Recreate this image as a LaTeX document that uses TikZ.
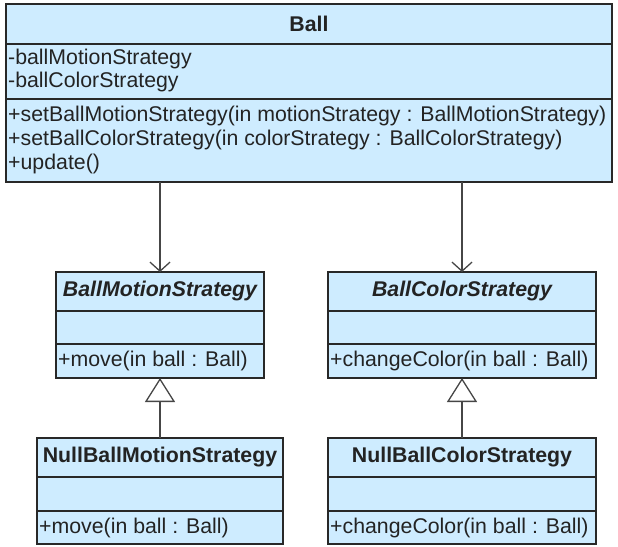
\documentclass[tikz,border=0pt]{standalone}
\usepackage{fontspec}
\setmainfont{Liberation Sans}
\usetikzlibrary{arrows.meta}
\definecolor{umlfill}{RGB}{206,236,255}
\definecolor{umlborder}{RGB}{40,40,40}
\definecolor{umltext}{RGB}{35,35,35}
\definecolor{umlarrow}{RGB}{70,70,70}
\begin{document}
\begin{tikzpicture}[x=1pt,y=-1pt,
 classbox/.style={draw=umlborder, fill=umlfill, line width=1.7pt, inner sep=0pt, outer sep=0pt, anchor=north west},
 divider/.style={draw=umlborder, line width=1.6pt},
 member/.style={anchor=west, inner sep=0pt, text=umltext, font=\fontsize{21.3}{23}\selectfont},
 classtitle/.style={inner sep=0pt, text=umltext, font=\fontsize{21.3}{23}\selectfont\bfseries},
 abstitle/.style={inner sep=0pt, text=umltext, font=\fontsize{21.3}{23}\selectfont\bfseries\itshape},
 assoc/.style={draw=umlarrow, line width=1.7pt, -{Straight Barb[length=9pt,width=20pt,line width=1.3pt]}},
 inherit/.style={draw=umlarrow, line width=1.7pt, -{Triangle[open,length=24pt,width=30pt,fill=white,line width=1.3pt]}}]
\useasboundingbox (0,0) rectangle (618,546);

% Ball
\node[classbox, minimum width=606pt, minimum height=178pt] (ball) at (6,4) {};
\draw[divider] (ball.west |- 0,44) -- (ball.east |- 0,44);
\draw[divider] (ball.west |- 0,99) -- (ball.east |- 0,99);
\node[classtitle] (balltitle) at (309,23.5) {Ball};
\node[member] (ba1) at (8,59) {-ballMotionStrategy};
\node[member] (ba2) at (8,82) {-ballColorStrategy};
\node[member] (bm1) at (8,116) {+setBallMotionStrategy(in motionStrategy : BallMotionStrategy)};
\node[member] (bm2) at (8,140) {+setBallColorStrategy(in colorStrategy : BallColorStrategy)};
\node[member] (bm3) at (8,164) {+update()};

% BallMotionStrategy
\node[classbox, minimum width=208pt, minimum height=106pt] (msb) at (56,272) {};
\draw[divider] (msb.west |- 0,311) -- (msb.east |- 0,311);
\draw[divider] (msb.west |- 0,344) -- (msb.east |- 0,344);
\node[abstitle] (msbtitle) at (160,291) {BallMotionStrategy};
\node[member] (msbm) at (58,361) {+move(in ball : Ball)};

% BallColorStrategy
\node[classbox, minimum width=268pt, minimum height=106pt] (csb) at (328,272) {};
\draw[divider] (csb.west |- 0,311) -- (csb.east |- 0,311);
\draw[divider] (csb.west |- 0,344) -- (csb.east |- 0,344);
\node[abstitle] (csbtitle) at (462,291) {BallColorStrategy};
\node[member] (csbm) at (330,361) {+changeColor(in ball : Ball)};

% NullBallMotionStrategy
\node[classbox, minimum width=246pt, minimum height=106pt] (nmb) at (37,438) {};
\draw[divider] (nmb.west |- 0,477) -- (nmb.east |- 0,477);
\draw[divider] (nmb.west |- 0,511) -- (nmb.east |- 0,511);
\node[classtitle] (nmbtitle) at (160,457.5) {NullBallMotionStrategy};
\node[member] (nmbm) at (39,527.5) {+move(in ball : Ball)};

% NullBallColorStrategy
\node[classbox, minimum width=268pt, minimum height=106pt] (ncb) at (328,438) {};
\draw[divider] (ncb.west |- 0,477) -- (ncb.east |- 0,477);
\draw[divider] (ncb.west |- 0,511) -- (ncb.east |- 0,511);
\node[classtitle] (ncbtitle) at (462,457.5) {NullBallColorStrategy};
\node[member] (ncbm) at (330,527.5) {+changeColor(in ball : Ball)};

% connectors
\draw[assoc] (ball.south -| msb.north) -- (msb.north);
\draw[assoc] (ball.south -| csb.north) -- (csb.north);
\draw[inherit] (nmb.north) -- (msb.south);
\draw[inherit] (ncb.north) -- (csb.south);
\end{tikzpicture}
\end{document}
